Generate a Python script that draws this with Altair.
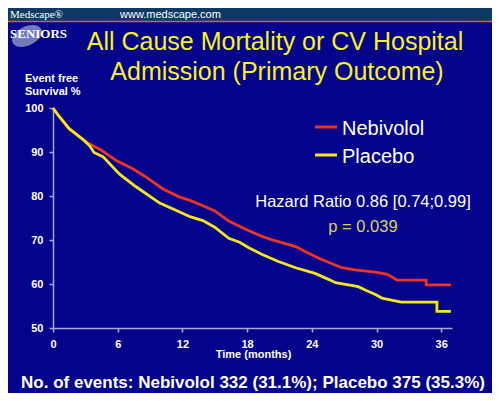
import altair as alt
import pandas as pd

# ---- data ----
neb_month = [0, 0.5, 1.5, 2.8, 3.4, 4.5, 5.9, 7.4, 8.5, 10.2, 11.7, 12.7, 13.9, 15.0, 16.3,
             17.9, 19.4, 20.5, 22.5, 23.7, 24.7, 25.6, 26.8, 28.0, 29.9, 31.0, 31.9, 34.6,
             34.6, 36.9]
neb_surv = [100, 98.3, 95.3, 92.8, 91.8, 90.4, 88.0, 86.2, 84.5, 81.6, 79.8, 79.0, 77.8, 76.6,
            74.3, 72.4, 70.8, 69.9, 68.5, 67.0, 65.8, 64.9, 63.7, 63.2, 62.7, 62.2, 60.9, 60.9,
            59.8, 59.8]

pla_month = [0, 0.5, 1.5, 2.8, 3.4, 3.8, 4.65, 6.2, 7.7, 9.9, 11.7, 12.7, 13.9, 15.0, 16.3,
             17.3, 18.2, 19.4, 20.9, 22.5, 24.3, 25.6, 26.2, 28.3, 29.0, 29.9, 30.5, 31.5,
             32.3, 35.6, 35.6, 36.9]
pla_surv = [100, 98.3, 95.3, 92.8, 91.4, 89.9, 88.9, 84.9, 82.1, 78.4, 76.4, 75.3, 74.4, 72.9,
            70.4, 69.5, 68.2, 66.7, 65.1, 63.7, 62.4, 61.0, 60.3, 59.4, 58.6, 57.6, 56.8, 56.3,
            55.9, 55.9, 53.8, 53.8]

x_ticks = [0, 6, 12, 18, 24, 30, 36]
y_ticks = [50, 60, 70, 80, 90, 100]
series_names = ["Nebivolol", "Placebo"]

RED = "#f03420"
YELLOW = "#f5e61e"
BG = "#03038c"
AXIS = "#a8a8d8"
SANS = "Liberation Sans"
SERIF = "Liberation Serif"

neb_df = pd.DataFrame({"month": neb_month, "surv": neb_surv})
pla_df = pd.DataFrame({"month": pla_month, "surv": pla_surv})

x_enc = alt.X("month:Q", scale=alt.Scale(domain=[0, 37], nice=False),
              axis=alt.Axis(values=x_ticks, title=None, grid=False, labelColor="white",
                            labelFont=SANS, labelFontWeight="bold", labelFontSize=11,
                            labelFlush=False, labelOverlap=False, labelPadding=6,
                            tickColor=AXIS, domainColor=AXIS, tickSize=4, domainWidth=1.5,
                            tickWidth=1.5))
y_enc = alt.Y("surv:Q", scale=alt.Scale(domain=[50, 100], nice=False, zero=False),
              axis=alt.Axis(values=y_ticks, title=None, grid=False, labelColor="white",
                            labelFont=SANS, labelFontWeight="bold", labelFontSize=11,
                            labelFlush=False, labelOverlap=False, labelPadding=6,
                            tickColor=AXIS, domainColor=AXIS, tickSize=4, domainWidth=1.5,
                            tickWidth=1.5))

neb_line = alt.Chart(neb_df).mark_line(color=RED, strokeWidth=2.8).encode(x=x_enc, y=y_enc)
pla_line = alt.Chart(pla_df).mark_line(color=YELLOW, strokeWidth=2.8).encode(x=x_enc, y=y_enc)

one = pd.DataFrame({"a": [0]})


def txt(s, x, y, size, color="white", weight="normal", font=SANS, align="left"):
    return alt.Chart(pd.DataFrame({"t": [s]})).mark_text(
        align=align, baseline="alphabetic", font=font, fontSize=size, fontWeight=weight,
        color=color
    ).encode(x=alt.value(x), y=alt.value(y), text="t:N")


# header bar
header = alt.Chart(one).mark_rect(color="#0c3a64").encode(
    x=alt.value(-60), x2=alt.value(450), y=alt.value(-110), y2=alt.value(-87))
header_line = alt.Chart(one).mark_rule(color="#c8692a", strokeWidth=1.5).encode(
    x=alt.value(-60), x2=alt.value(450), y=alt.value(-86.5))

# SENIORS logo
ellipse = alt.Chart(one).mark_point(
    shape="M -1 0 A 1 0.6 0 1 1 1 0 A 1 0.6 0 1 1 -1 0 Z", filled=True, size=1000,
    angle=335, color="#8086c0", opacity=0.9).encode(x=alt.value(-26), y=alt.value(-72))

legend_red = alt.Chart(one).mark_rule(color=RED, strokeWidth=3).encode(
    x=alt.value(262), x2=alt.value(284), y=alt.value(19))
legend_yel = alt.Chart(one).mark_rule(color=YELLOW, strokeWidth=3).encode(
    x=alt.value(262), x2=alt.value(284), y=alt.value(47))

layers = [
    header, header_line,
    txt("Medscape®", -43, -90, 11, font=SERIF),
    txt("www.medscape.com", 67, -90, 11),
    ellipse,
    txt("SENIORS", -43, -69.7, 13, weight="bold", font=SERIF),
    txt("All Cause Mortality or CV Hospital", 222, -58, 25, color="#f8f21e", align="center"),
    txt("Admission (Primary Outcome)", 224, -28, 25, color="#f8f21e", align="center"),
    txt("Event free", -28, -26, 11, weight="bold"),
    txt("Survival %", -28, -13, 11, weight="bold"),
    neb_line, pla_line,
    legend_red, legend_yel,
    txt(series_names[0], 289, 27, 20),
    txt(series_names[1], 289, 55, 20),
    txt("Hazard Ratio 0.86 [0.74;0.99]", 310, 99, 16.5, align="center"),
    txt("p = 0.039", 310, 124, 16.5, color="#ddd060", align="center"),
    txt("Time  (months)", 200.5, 250, 11, weight="bold", align="center"),
    txt("No. of events: Nebivolol 332 (31.1%); Placebo 375 (35.3%)", 200, 280, 17,
        weight="bold", align="center"),
]

chart = alt.layer(*layers).properties(
    width=399, height=220,
    padding={"left": 45, "top": 100, "right": 40, "bottom": 65},
    autosize=alt.AutoSizeParams(type="none"),
    background=BG,
).configure_view(strokeWidth=0)

chart.save("out.html", embed_options={"renderer": "svg", "actions": False})
